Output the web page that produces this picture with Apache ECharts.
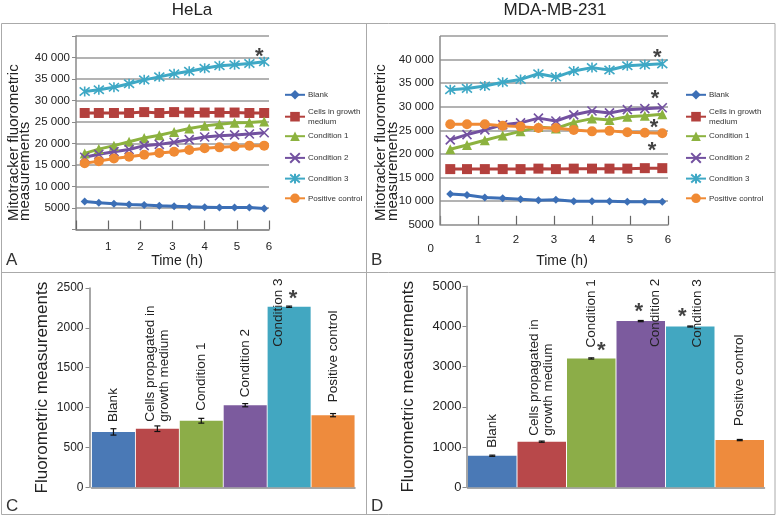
<!DOCTYPE html>
<html><head><meta charset="utf-8">
<script src="https://cdn.jsdelivr.net/npm/echarts@6/dist/echarts.min.js"></script>
<style>html,body{margin:0;padding:0;background:#fff}#c{width:778px;height:518px}</style>
</head><body><div id="c"></div>
<script>
// ---------- data ----------
const times = [0.27, 0.71, 1.18, 1.65, 2.12, 2.59, 3.05, 3.52, 4.0, 4.46, 4.93, 5.39, 5.85];
const lineNames = ['Blank', 'Cells in growth medium', 'Condition 1', 'Condition 2', 'Condition 3', 'Positive control'];

const helaBlank = [6500, 6200, 6000, 5800, 5700, 5500, 5400, 5300, 5200, 5100, 5100, 5100, 4900];
const helaCells = [27100, 27100, 27100, 27100, 27300, 27100, 27300, 27200, 27200, 27200, 27200, 27100, 27100];
const helaCond1 = [17700, 18700, 19500, 20400, 21300, 21900, 22700, 23500, 24100, 24500, 24800, 24900, 25100];
const helaCond2 = [16800, 17500, 18100, 18600, 19500, 19800, 20300, 20900, 21500, 21800, 22000, 22200, 22500];
const helaCond3 = [32100, 32500, 33100, 33900, 34800, 35500, 36200, 36800, 37500, 38100, 38300, 38600, 39000];
const helaPos   = [15400, 15900, 16500, 16900, 17400, 17800, 18100, 18500, 18900, 19100, 19300, 19500, 19500];

const mdaBlank = [11500, 11300, 10800, 10600, 10400, 10200, 10300, 10000, 10000, 10000, 9900, 9900, 9900];
const mdaCells = [16800, 16800, 16800, 16800, 16800, 16900, 16800, 16900, 16900, 16900, 16900, 17000, 17000];
const mdaCond1 = [21000, 21900, 22900, 23900, 24800, 25700, 25400, 26700, 27500, 27200, 27900, 28100, 28400];
const mdaCond2 = [23000, 24100, 25100, 26200, 26600, 27600, 27000, 28300, 29100, 28700, 29400, 29600, 29800];
const mdaCond3 = [33600, 33900, 34400, 35200, 35800, 37000, 36300, 37600, 38300, 37800, 38700, 38900, 39100];
const mdaPos   = [26300, 26300, 26300, 26000, 25800, 25500, 25500, 25100, 24800, 24900, 24600, 24500, 24400];

const xTicks = [0, 1, 2, 3, 4, 5, 6];
const helaStars = [[5.70, 41300]];
const mdaStars = [[5.72, 41400], [5.66, 32800], [5.63, 26500], [5.58, 21700]];

const barCats = ['Blank', 'Cells propagated in\ngrowth medium', 'Condition 1', 'Condition 2', 'Condition 3', 'Positive control'];
const helaBar = [695, 735, 835, 1030, 2265, 905];
const helaErr = [40, 35, 30, 20, 8, 20];
const mdaBar = [785, 1135, 3205, 4135, 4000, 1175];
const mdaErr = [15, 15, 15, 15, 12, 15];
const helaBarStars = [[4, 2429]];
const mdaBarStars = [[2, 3525], [3, 4483], [4, 4358]];

// ---------- styles ----------
const FONT = 'Liberation Sans, Arial, sans-serif';
const lineColors = ['#3c6fb6', '#b3403d', '#8cb23f', '#7351a0', '#3ea8c5', '#f08a34'];
const barColors = ['#4a79b6', '#b8484a', '#8cad48', '#7c5b9e', '#42a7c1', '#ee8b3d'];
const symbols = ['diamond', 'rect', 'triangle', 'path://M0,0L10,10M10,0L0,10', 'path://M0,0L10,10M10,0L0,10M5,-1L5,11', 'circle'];
const symbolSizes = [8, 10, 10, 9, 10, 10];
const gridColor = '#9a9a9a';
const axisColor = '#8a8a8a';

function fmtThousands(v) {
  return v >= 10000 ? Math.floor(v / 1000) + ' 000' : String(v);
}

function lineSeries(idx, arrays) {
  return arrays.map((arr, i) => ({
    type: 'line', name: lineNames[i], xAxisIndex: idx, yAxisIndex: idx,
    data: times.map((t, j) => [t, arr[j]]),
    symbol: symbols[i], symbolSize: symbolSizes[i], showAllSymbol: true,
    lineStyle: { width: 3, color: lineColors[i] },
    itemStyle: (i === 3 || i === 4) ? { color: lineColors[i], borderColor: lineColors[i], borderWidth: 1.6 } : { color: lineColors[i] },
    animation: false, z: 3
  }));
}

function starSeries(xIdx, pts, offsets) {
  return {
    type: 'scatter', xAxisIndex: xIdx, yAxisIndex: xIdx,
    data: pts.map((p, i) => ({ value: p, label: { offset: [offsets ? offsets[i] : 0, 5] } })),
    symbolSize: 1, itemStyle: { color: 'rgba(0,0,0,0)' }, silent: true, animation: false, z: 20,
    label: { show: true, formatter: '*', position: 'inside', fontSize: 22, fontFamily: FONT, color: '#111', fontWeight: 'bold' }
  };
}

function legendsFor(left) {
  const centers = lineNames.map((_, i) => 96 + i * 20.7);
  return lineNames.map((n, i) => {
    const twoLine = n === 'Cells in growth medium';
    return {
      data: [n], orient: 'vertical', left: left, top: centers[i] - (twoLine ? 9.5 : 6),
      itemWidth: 20, itemHeight: 12, padding: 0, selectedMode: false,
      formatter: nm => nm === 'Cells in growth medium' ? 'Cells in growth\nmedium' : nm,
      textStyle: { fontSize: 8, lineHeight: 9.5, color: '#333', fontFamily: FONT, padding: [0, 0, 0, -2] }
    };
  });
}

function barSeries(idx, vals, distances, posOverrides) {
  return {
    type: 'bar', xAxisIndex: idx, yAxisIndex: idx, barCategoryGap: '2%',
    data: vals.map((v, i) => {
      const lab = {};
      if (posOverrides[i]) lab.position = posOverrides[i]; else lab.distance = distances[i];
      return { value: v, itemStyle: { color: barColors[i] }, label: lab };
    }),
    label: {
      show: true, formatter: '{b}', position: 'top', rotate: 90, align: 'left', verticalAlign: 'middle',
      fontSize: 13.5, lineHeight: 14, color: '#222', fontFamily: FONT
    },
    animation: false, z: 2
  };
}

function errSeries(idx, vals, errs) {
  return {
    type: 'custom', xAxisIndex: idx, yAxisIndex: idx, z: 10, silent: true, animation: false,
    data: vals.map((v, i) => [i, v - errs[i], v + errs[i]]),
    encode: { x: 0, y: [1, 2] },
    renderItem: (params, api) => {
      const lo = api.coord([api.value(0), api.value(1)]);
      const hi = api.coord([api.value(0), api.value(2)]);
      const w = 3, st = { stroke: '#111', lineWidth: 1.2 };
      return { type: 'group', children: [
        { type: 'line', shape: { x1: lo[0], y1: lo[1], x2: hi[0], y2: hi[1] }, style: st },
        { type: 'line', shape: { x1: lo[0] - w, y1: lo[1], x2: lo[0] + w, y2: lo[1] }, style: st },
        { type: 'line', shape: { x1: hi[0] - w, y1: hi[1], x2: hi[0] + w, y2: hi[1] }, style: st }
      ] };
    }
  };
}

const lineXAxis = (idx, margin, gap, pad) => ({
  type: 'value', gridIndex: idx, min: xTicks[0], max: xTicks[xTicks.length - 1], interval: 1,
  axisLine: { onZero: false, lineStyle: { color: axisColor, width: 1.5 } },
  axisTick: { inside: true, length: 9, lineStyle: { color: '#666', width: 1.2 } },
  axisLabel: { formatter: v => v === 0 ? '' : String(v), fontSize: 11.5, color: '#222', margin: margin, fontFamily: FONT },
  splitLine: { show: false },
  name: 'Time (h)', nameLocation: 'middle', nameGap: gap,
  nameTextStyle: { fontSize: 14, color: '#222', fontFamily: FONT, padding: [0, 0, 0, pad] }
});

const option = {
  animation: false,
  backgroundColor: '#fff',
  title: [
    { text: 'HeLa', left: 192, top: 1.5, textAlign: 'center', padding: 0, textStyle: { fontSize: 17, fontWeight: 'normal', color: '#222', fontFamily: FONT } },
    { text: 'MDA-MB-231', left: 555, top: 1.5, textAlign: 'center', padding: 0, textStyle: { fontSize: 17, fontWeight: 'normal', color: '#222', fontFamily: FONT } }
  ],
  grid: [
    { left: 76, right: 509, top: 36, bottom: 288.5 },
    { left: 440, right: 110, top: 36, bottom: 269.6 },
    { left: 91.5, right: 423, top: 288, bottom: 30.7 },
    { left: 467.5, right: 13.5, top: 286.3, bottom: 30.7 }
  ],
  xAxis: [
    lineXAxis(0, 11, 25, 9),
    Object.assign(lineXAxis(1, 9, 29, 16), { offset: -23.6 }),
    { type: 'category', gridIndex: 2, data: barCats, axisLine: { lineStyle: { color: axisColor, width: 1.5 } }, axisTick: { show: false }, axisLabel: { show: false } },
    { type: 'category', gridIndex: 3, data: barCats, axisLine: { lineStyle: { color: axisColor, width: 1.5 } }, axisTick: { show: false }, axisLabel: { show: false } }
  ],
  yAxis: [
    { type: 'value', gridIndex: 0, min: 0, max: 45000, interval: 5000,
      axisLine: { show: true, lineStyle: { color: axisColor, width: 1.5 } },
      axisTick: { show: true, length: 4, lineStyle: { color: axisColor } },
      axisLabel: { formatter: v => (v === 0 || v === 45000) ? '' : fmtThousands(v), fontSize: 11.5, color: '#222', margin: 6, fontFamily: FONT },
      splitLine: { show: true, lineStyle: { color: gridColor, width: 1.6 } } },
    { type: 'value', gridIndex: 1, min: 0, max: 45000, interval: 5000,
      axisLine: { show: false },
      axisTick: { show: false },
      axisLabel: { formatter: v => v === 45000 ? '' : fmtThousands(v), fontSize: 11.5, color: '#222', margin: 6, fontFamily: FONT },
      splitLine: { show: true, showMinLine: false, lineStyle: { color: ['rgba(0,0,0,0)', gridColor, gridColor, gridColor, gridColor, gridColor, gridColor, gridColor, gridColor, gridColor], width: 1.6 } } },
    { type: 'value', gridIndex: 2, min: 0, max: 2500, interval: 500, offset: 2,
      axisLine: { show: true, lineStyle: { color: axisColor, width: 1.5 } },
      axisTick: { show: true, length: 4, lineStyle: { color: axisColor } },
      axisLabel: { formatter: v => String(v), fontSize: 12, color: '#222', margin: 6, fontFamily: FONT },
      splitLine: { show: false },
      name: 'Fluorometric measurements', nameLocation: 'middle', nameGap: 39,
      nameTextStyle: { fontSize: 17, color: '#222', fontFamily: FONT } },
    { type: 'value', gridIndex: 3, min: 0, max: 5000, interval: 1000, offset: 1,
      axisLine: { show: true, lineStyle: { color: axisColor, width: 1.5 } },
      axisTick: { show: true, length: 4, lineStyle: { color: axisColor } },
      axisLabel: { formatter: v => String(v), fontSize: 13, color: '#222', margin: 5, fontFamily: FONT },
      splitLine: { show: false },
      name: 'Fluorometric measurements', nameLocation: 'middle', nameGap: 50,
      nameTextStyle: { fontSize: 17, color: '#222', fontFamily: FONT } }
  ],
  legend: legendsFor(284).concat(legendsFor(685)),
  series: [].concat(
    lineSeries(0, [helaBlank, helaCells, helaCond1, helaCond2, helaCond3, helaPos]),
    lineSeries(1, [mdaBlank, mdaCells, mdaCond1, mdaCond2, mdaCond3, mdaPos]),
    [starSeries(0, helaStars), starSeries(1, mdaStars)],
    [barSeries(2, helaBar, [10, 7, 10, 8, 0, 13], [null, null, null, null, [11, 40], null]),
     errSeries(2, helaBar, helaErr),
     starSeries(2, helaBarStars, [4])],
    [barSeries(3, mdaBar, [8, 6, 11, 0, 0, 14], [null, null, null, [39, 26], [31, 21], null]),
     errSeries(3, mdaBar, mdaErr),
     starSeries(3, mdaBarStars, [10, -2, -8])]
  )
};

// vertical axis line of panel B (drawn from 5000 to the top, where the x axis crosses)
option.series[6].markLine = {
  silent: true, symbol: 'none', animation: false, label: { show: false },
  lineStyle: { color: axisColor, width: 1.5, type: 'solid' },
  data: [[{ coord: [0, 5000] }, { coord: [0, 45000] }]]
};

const yName = 'Mitotracker fluorometric\nmeasurements';
option.graphic = [
  { type: 'rect', shape: { x: 1.5, y: 23.5, width: 773.5, height: 491 }, style: { fill: 'none', stroke: '#aaa', lineWidth: 1 }, silent: true },
  { type: 'line', shape: { x1: 366.5, y1: 23.5, x2: 366.5, y2: 514.5 }, style: { stroke: '#aaa', lineWidth: 1 }, silent: true },
  { type: 'line', shape: { x1: 1.5, y1: 272.5, x2: 775, y2: 272.5 }, style: { stroke: '#aaa', lineWidth: 1 }, silent: true },
  { type: 'text', x: 6, y: 260, style: { text: 'A', font: '17px ' + FONT, fill: '#333', verticalAlign: 'middle' }, silent: true },
  { type: 'text', x: 371, y: 260, style: { text: 'B', font: '17px ' + FONT, fill: '#333', verticalAlign: 'middle' }, silent: true },
  { type: 'text', x: 6, y: 506, style: { text: 'C', font: '17px ' + FONT, fill: '#333', verticalAlign: 'middle' }, silent: true },
  { type: 'text', x: 371, y: 506, style: { text: 'D', font: '17px ' + FONT, fill: '#333', verticalAlign: 'middle' }, silent: true },
  { type: 'text', x: 8, y: 221, rotation: Math.PI / 2, style: { text: yName, font: '15px ' + FONT, lineHeight: 11.5, fill: '#222', align: 'left', verticalAlign: 'top' }, silent: true },
  { type: 'text', x: 375.5, y: 221, rotation: Math.PI / 2, style: { text: yName, font: '15px ' + FONT, lineHeight: 11.5, fill: '#222', align: 'left', verticalAlign: 'top' }, silent: true }
];

const chart = echarts.init(document.getElementById('c'), null, { renderer: 'canvas' });
chart.setOption(option);
</script>
</body></html>
